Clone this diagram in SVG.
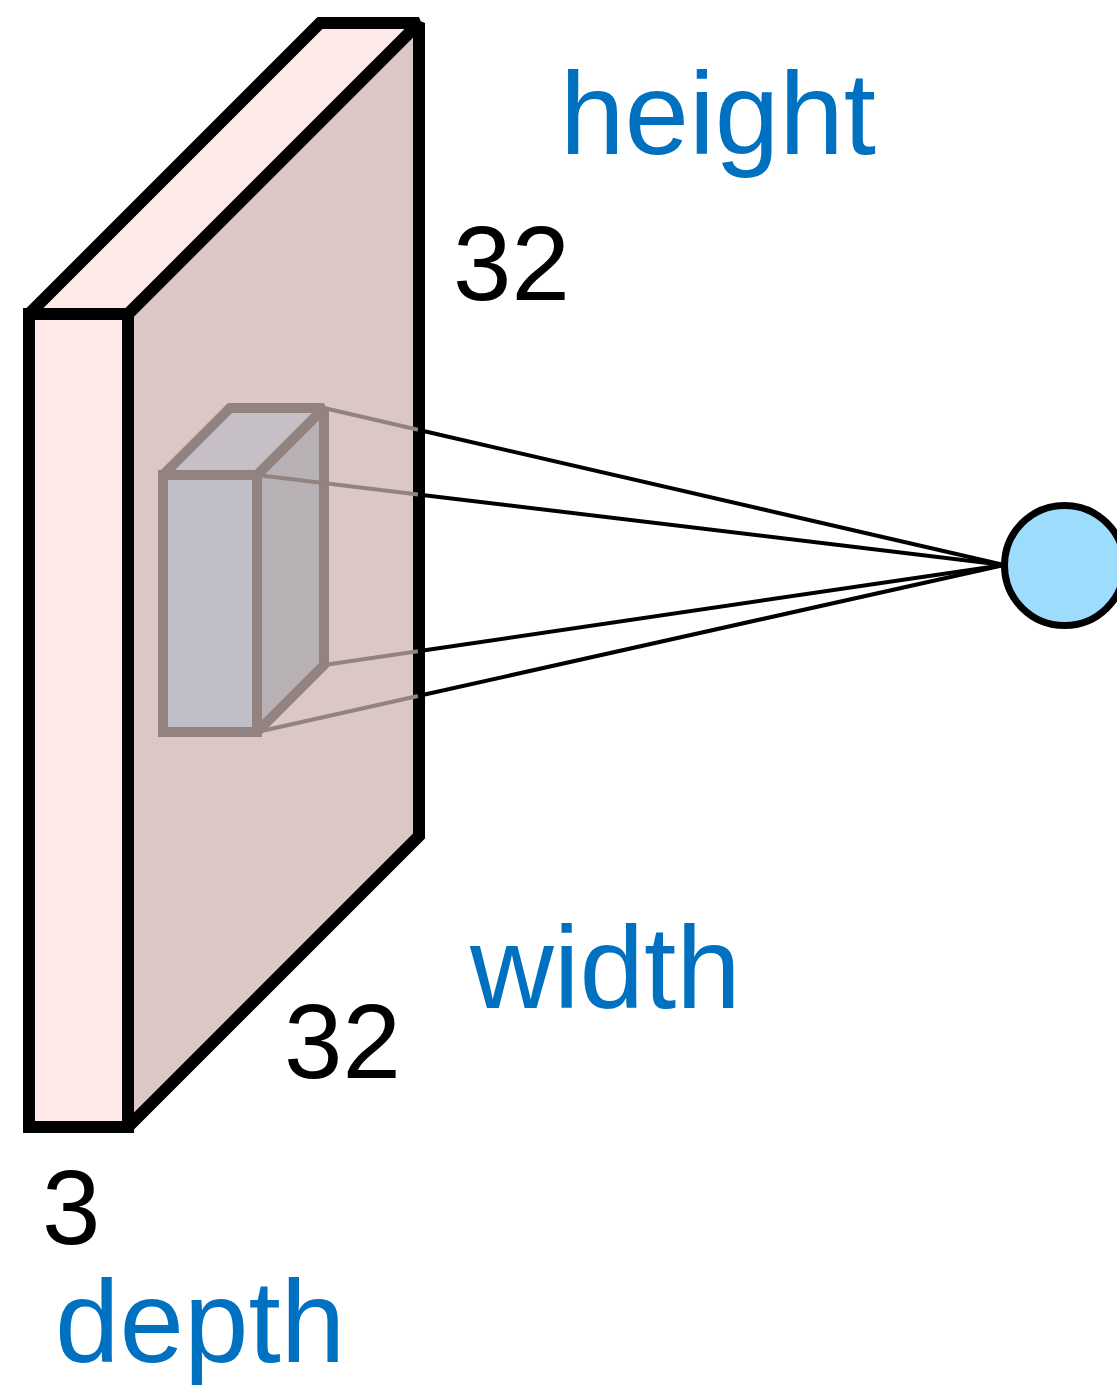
<svg xmlns="http://www.w3.org/2000/svg" width="1117" height="1385" viewBox="0 0 1117 1385">
<style>
.lbl{font-family:"Liberation Sans",Arial,sans-serif;fill:#0070C0;font-size:116px}
.num{font-family:"Liberation Sans",Arial,sans-serif;fill:#000;font-size:105px}
.slab{stroke:#000;stroke-width:12;stroke-linejoin:miter;stroke-miterlimit:2}
.cube{stroke:#928380;stroke-width:10;stroke-linejoin:miter;stroke-miterlimit:2}
.gl{stroke:#928380;stroke-width:4;fill:none}
.bl{stroke:#000;stroke-width:4;fill:none}
</style>
<rect width="1117" height="1385" fill="#fff"/>
<g id="volume">
<polygon class="slab" points="128,314 419,23 419,836 128,1127" fill="#DBC8C6"/>
<polygon class="slab" points="29,314 320,23 419,23 128,314" fill="#FFEAE9"/>
<rect class="slab" x="29" y="314" width="99" height="813" fill="#FFEAE9"/>
</g>
<g id="filter">
<polygon class="cube" points="257,475 324,408 324,665 257,732" fill="#B8B2B7"/>
<polygon class="cube" points="163,475 230,408 324,408 257,475" fill="#C6C0C6"/>
<rect class="cube" x="163" y="475" width="94" height="257" fill="#BEBFC8"/>
</g>
<g id="connectors">
<line class="gl" x1="324" y1="408" x2="418" y2="429.7"/>
<line class="gl" x1="257" y1="475" x2="418" y2="494.4"/>
<line class="gl" x1="324" y1="665" x2="418" y2="651.2"/>
<line class="gl" x1="257" y1="732" x2="418" y2="696"/>
<line class="bl" x1="418" y1="429.7" x2="1004" y2="565"/>
<line class="bl" x1="418" y1="494.4" x2="1004" y2="565"/>
<line class="bl" x1="418" y1="651.2" x2="1004" y2="565"/>
<line class="bl" x1="418" y1="696" x2="1004" y2="565"/>
</g>
<g id="neuron">
<circle cx="1064.5" cy="565.5" r="60" fill="#9DDCFC" stroke="#000" stroke-width="7"/>
</g>
<g id="labels">
<text class="lbl" x="560" y="154">height</text>
<text class="num" x="453" y="300">32</text>
<text class="lbl" x="470" y="1008">width</text>
<text class="num" x="284" y="1078">32</text>
<text class="num" x="42" y="1244">3</text>
<text class="lbl" x="55" y="1362">depth</text>
</g>
</svg>
